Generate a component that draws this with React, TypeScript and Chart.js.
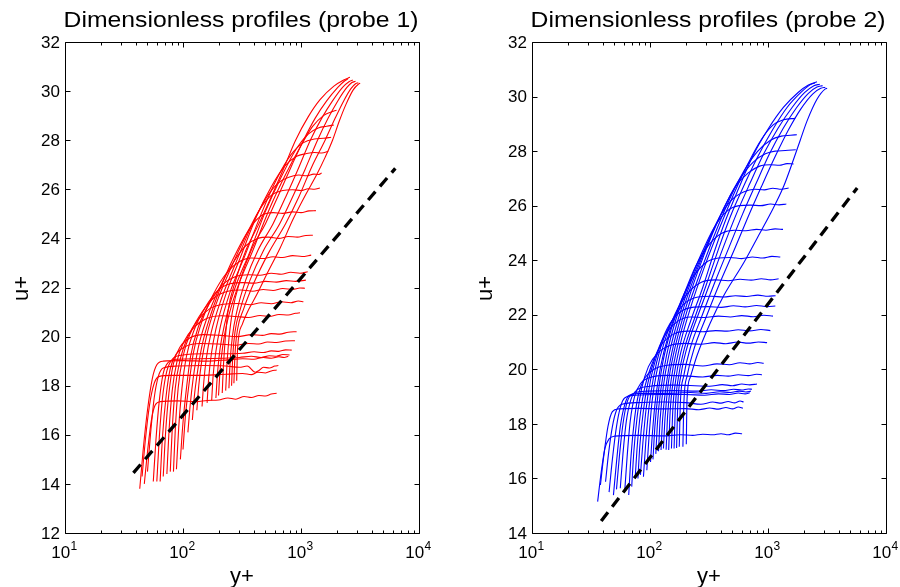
import React, { useEffect, useRef } from 'react';
import { Chart, registerables } from 'chart.js';

Chart.register(...registerables);

type Pt = [number, number];

const FONT = '"Liberation Sans", Arial, Helvetica, sans-serif';

// ---------- axes ----------
const xTickValues = [10, 100, 1000, 10000];
const xTickBase = '10';
const xTickExponents = ['1', '2', '3', '4'];
const xMinorValues = [20, 30, 40, 50, 60, 70, 80, 90, 200, 300, 400, 500, 600, 700, 800, 900, 2000, 3000, 4000, 5000, 6000, 7000, 8000, 9000];
const yTicksProbe1 = [12, 14, 16, 18, 20, 22, 24, 26, 28, 30, 32];
const yTicksProbe2 = [14, 16, 18, 20, 22, 24, 26, 28, 30, 32];

// ---------- log-law reference line ----------
const logLawXProbe1 = [38, 6300];
const logLawUProbe1 = [14.45, 26.85];
const logLawXProbe2 = [38.6, 5700];
const logLawUProbe2 = [14.44, 26.65];

// ---------- probe 1 profiles (y+, u+) ----------
const p1c01: Pt[] = [[47,14.0],[50,15.3],[54,16.6],[58,17.2],[64,17.35],[90,17.38],[130,17.35],[160,17.4],[200,17.42],[240,17.5],[280,17.45],[330,17.56],[380,17.52],[440,17.6],[500,17.58],[560,17.66],[622,17.69]];
const p1c02: Pt[] = [[45,14.3],[48,15.8],[52,17.2],[57,18.1],[63,18.38],[80,18.42],[130,18.42],[200,18.45],[260,18.48],[320,18.5],[380,18.45],[430,18.55],[500,18.52],[560,18.6],[622,18.64]];
const p1c03: Pt[] = [[50,14.5],[53,16.0],[57,17.5],[62,18.4],[68,18.72],[90,18.8],[150,18.82],[230,18.8],[300,18.75],[350,18.8],[410,18.55],[440,18.62],[480,18.75],[540,18.72],[600,18.8],[643,18.82]];
const p1c04: Pt[] = [[43,13.8],[46,15.4],[50,17.0],[55,18.3],[60,18.85],[68,19.0],[100,19.02],[160,19.0],[240,19.05],[320,19.1],[400,19.08],[480,19.15],[560,19.12],[650,19.18],[720,19.15],[781,19.2]];
const p1c05: Pt[] = [[56,14.1],[59,15.8],[63,17.4],[68,18.5],[75,18.95],[90,19.08],[140,19.1],[220,19.12],[300,19.15],[380,19.2],[460,19.15],[540,19.22],[620,19.2],[700,19.27],[800,19.25]];
const p1c06: Pt[] = [[60,14.1],[63,15.9],[67,17.5],[73,18.6],[82,19.1],[100,19.25],[150,19.3],[230,19.3],[320,19.32],[400,19.38],[480,19.35],[560,19.42],[650,19.4],[740,19.46],[834,19.45]];
const p1c07: Pt[] = [[64,14.1],[67,15.9],[72,17.6],[78,18.7],[88,19.3],[105,19.6],[140,19.72],[200,19.7],[280,19.65],[360,19.72],[440,19.7],[520,19.78],[620,19.76],[740,19.82],[889,19.83]];
const p1c08: Pt[] = [[68,14.3],[71,16.0],[76,17.7],[83,18.9],[95,19.6],[115,19.95],[150,20.08],[210,20.05],[290,20.0],[380,20.08],[470,20.05],[560,20.12],[660,20.1],[780,20.18],[918,20.2]];
const p1c09: Pt[] = [[73,14.4],[76,16.1],[81,17.8],[89,19.0],[102,19.8],[125,20.4],[160,20.75],[210,20.85],[280,20.82],[360,20.78],[450,20.86],[540,20.82],[650,20.9],[780,20.88],[900,20.95],[980,20.97]];
const p1c10: Pt[] = [[78,14.5],[81,16.2],[86,17.9],[95,19.1],[110,20.0],[135,20.7],[170,21.15],[220,21.32],[290,21.35],[370,21.3],[460,21.38],[560,21.34],[680,21.42],[820,21.38],[950,21.45],[1048,21.42]];
const p1c11: Pt[] = [[83,14.5],[86,16.2],[91,17.9],[100,19.2],[117,20.2],[145,21.0],[185,21.6],[240,21.85],[310,21.9],[390,21.85],[480,21.92],[580,21.88],[700,21.96],[850,21.92],[980,21.98],[1080,21.97]];
const p1c12: Pt[] = [[88,14.6],[92,16.3],[98,17.9],[107,19.2],[125,20.3],[155,21.2],[195,21.85],[250,22.15],[320,22.2],[400,22.18],[500,22.25],[620,22.22],[750,22.28],[900,22.25],[1100,22.3]];
const p1c13: Pt[] = [[95,15.0],[100,16.5],[107,17.9],[116,19.2],[135,20.4],[170,21.4],[215,22.1],[280,22.45],[360,22.52],[450,22.5],[560,22.58],[680,22.54],[820,22.62],[980,22.58],[1140,22.64]];
const p1c14: Pt[] = [[100,15.4],[105,16.8],[112,18.0],[122,19.3],[142,20.5],[180,21.7],[235,22.6],[300,23.05],[380,23.2],[470,23.18],[580,23.25],[700,23.22],[850,23.3],[1020,23.26],[1220,23.32]];
const p1c15: Pt[] = [[110,16.1],[115,17.2],[122,18.3],[134,19.5],[158,20.7],[200,21.9],[265,23.0],[340,23.7],[430,24.0],[530,24.05],[650,24.0],[780,24.08],[930,24.05],[1100,24.12],[1260,24.13]];
const p1c16: Pt[] = [[120,16.6],[125,17.6],[133,18.6],[146,19.7],[172,20.9],[225,22.4],[295,23.6],[380,24.5],[470,24.95],[580,25.05],[700,25.02],[850,25.08],[1000,25.05],[1170,25.12],[1337,25.13]];
const p1c17: Pt[] = [[131,17.0],[136,18.0],[144,19.0],[158,20.0],[190,21.3],[255,22.8],[340,24.1],[450,25.2],[560,25.75],[700,25.95],[850,25.98],[1000,25.95],[1150,26.02],[1300,26.0],[1445,26.05]];
const p1c18: Pt[] = [[145,17.15],[150,18.15],[158,19.15],[173,20.15],[210,21.5],[280,23.0],[380,24.5],[500,25.6],[640,26.25],[800,26.5],[960,26.58],[1120,26.55],[1280,26.62],[1400,26.6],[1496,26.66]];
const p1c19: Pt[] = [[160,17.3],[165,18.3],[174,19.3],[190,20.3],[230,21.7],[305,23.2],[420,24.9],[560,26.1],[730,26.95],[920,27.35],[1100,27.45],[1300,27.5],[1500,27.48],[1702,27.55]];
const p1c20: Pt[] = [[175,17.4],[180,18.4],[190,19.4],[207,20.4],[250,21.8],[335,23.3],[460,25.0],[620,26.4],[820,27.4],[1050,27.9],[1300,28.05],[1550,28.08],[1800,28.12]];
const p1c21: Pt[] = [[190,17.5],[196,18.5],[206,19.5],[225,20.5],[272,21.9],[365,23.4],[500,25.1],[680,26.5],[900,27.6],[1150,28.25],[1400,28.5],[1650,28.57],[1900,28.62]];
const p1c22: Pt[] = [[200,17.6],[206,18.6],[217,19.6],[237,20.6],[290,22.0],[390,23.5],[540,25.2],[740,26.6],[980,27.7],[1250,28.55],[1550,29.0],[1800,29.15],[2000,29.22]];
const p1t1: Pt[] = [[215,17.7],[220,18.8],[228,19.9],[240,21.0],[280,22.3],[340,23.5],[430,24.5],[560,25.7],[720,26.9],[900,28.0],[1150,28.95],[1450,29.65],[1900,30.2],[2300,30.45],[2600,30.56]];
const p1t2: Pt[] = [[230,17.8],[236,18.9],[245,19.9],[262,21.0],[310,22.4],[385,23.6],[500,24.6],[650,25.8],[840,27.0],[1050,28.0],[1320,28.9],[1650,29.6],[2050,30.15],[2350,30.42],[2500,30.5]];
const p1t3: Pt[] = [[245,17.9],[251,19.0],[262,20.0],[285,21.0],[340,22.3],[430,23.5],[580,24.6],[760,25.8],[960,26.9],[1200,28.0],[1500,28.9],[1850,29.6],[2250,30.15],[2550,30.38],[2750,30.45]];
const p1t4: Pt[] = [[258,18.0],[264,19.2],[276,20.2],[305,21.1],[370,22.3],[480,23.5],[660,24.6],[850,25.7],[1080,26.8],[1380,28.0],[1700,28.9],[2050,29.6],[2450,30.15],[2700,30.35],[2900,30.4]];
const p1t5: Pt[] = [[270,18.1],[276,19.3],[290,20.3],[325,21.1],[400,22.2],[530,23.4],[740,24.6],[960,25.7],[1230,26.9],[1600,28.0],[1950,28.9],[2300,29.6],[2650,30.1],[2900,30.3],[3060,30.34]];
const p1t6: Pt[] = [[285,18.2],[290,19.5],[318,20.5],[360,21.1],[421,21.7],[520,22.6],[664,23.6],[860,24.8],[1100,25.8],[1360,26.6],[1600,27.3],[1850,28.0],[2100,28.75],[2400,29.45],[2770,30.05],[3060,30.28],[3170,30.32]];

const probe1Curves: Pt[][] = [p1c01, p1c02, p1c03, p1c04, p1c05, p1c06, p1c07, p1c08, p1c09, p1c10, p1c11, p1c12, p1c13, p1c14, p1c15, p1c16, p1c17, p1c18, p1c19, p1c20, p1c21, p1c22, p1t1, p1t2, p1t3, p1t4, p1t5, p1t6];

// ---------- probe 2 profiles (y+, u+) ----------
const p2d01: Pt[] = [[36,15.15],[38.5,16.2],[41.5,17.1],[45,17.45],[50,17.55],[80,17.58],[130,17.56],[181,17.6],[230,17.58],[280,17.62],[340,17.6],[400,17.64],[460,17.6],[530,17.66],[603,17.64]];
const p2d02: Pt[] = [[38,15.76],[40.5,16.8],[44,17.9],[48,18.45],[54,18.55],[80,18.57],[130,18.55],[200,18.56],[260,18.52],[320,18.58],[380,18.54],[440,18.6],[500,18.55],[560,18.62],[613,18.57]];
const p2d03: Pt[] = [[42,15.88],[44.5,16.9],[48,17.9],[52,18.5],[58,18.72],[80,18.78],[130,18.8],[200,18.78],[270,18.72],[340,18.8],[400,18.76],[460,18.82],[520,18.77],[580,18.84],[621,18.8]];
const p2d04: Pt[] = [[45,15.5],[48,16.7],[52,17.9],[56,18.6],[61,18.95],[75,19.05],[120,19.08],[200,19.08],[290,19.05],[380,19.1],[470,19.08],[560,19.13],[640,19.1],[700,19.14]];
const p2d05: Pt[] = [[49,15.39],[52,16.6],[56,17.9],[61,18.7],[67,19.05],[85,19.12],[140,19.12],[220,19.15],[300,19.12],[390,19.18],[480,19.15],[570,19.2],[650,19.17],[715,19.2]];
const p2d06: Pt[] = [[52,15.6],[55,16.8],[59,18.0],[64,18.8],[71,19.1],[95,19.2],[160,19.22],[250,19.2],[330,19.25],[420,19.22],[510,19.27],[600,19.24],[680,19.28],[732,19.27]];
const p2d07: Pt[] = [[56,15.64],[59,16.9],[63,18.1],[69,18.9],[78,19.25],[100,19.38],[160,19.42],[240,19.4],[320,19.38],[410,19.44],[500,19.4],[600,19.46],[700,19.43],[807,19.46]];
const p2d08: Pt[] = [[61,15.5],[64,16.8],[68,18.1],[74,19.0],[84,19.5],[100,19.7],[140,19.78],[200,19.76],[280,19.72],[370,19.78],[460,19.75],[560,19.8],[680,19.77],[800,19.82],[889,19.8]];
const p2d09: Pt[] = [[66,15.39],[69,16.8],[74,18.2],[80,19.1],[91,19.7],[108,20.0],[140,20.15],[200,20.18],[280,20.12],[370,20.2],[470,20.17],[580,20.24],[700,20.2],[820,20.25],[918,20.22]];
const p2d10: Pt[] = [[70,15.7],[73,17.0],[78,18.3],[85,19.3],[97,20.1],[117,20.6],[150,20.88],[200,20.95],[270,20.92],[350,20.98],[440,20.94],[550,21.0],[680,20.96],[830,21.0],[982,20.98]];
const p2d11: Pt[] = [[75,16.06],[78,17.2],[83,18.4],[91,19.4],[104,20.2],[125,20.9],[160,21.3],[210,21.4],[280,21.38],[360,21.42],[450,21.4],[560,21.45],[700,21.41],[870,21.46],[1047,21.42]];
const p2d12: Pt[] = [[79,16.0],[82,17.2],[88,18.5],[96,19.5],[110,20.4],[132,21.2],[170,21.75],[220,21.92],[290,21.9],[380,21.95],[480,21.92],[600,21.97],[750,21.93],[920,21.98],[1102,21.95]];
const p2d13: Pt[] = [[83,16.13],[87,17.3],[93,18.6],[101,19.6],[116,20.6],[140,21.5],[180,22.1],[235,22.28],[310,22.3],[400,22.27],[510,22.33],[640,22.29],[800,22.34],[980,22.3],[1154,22.32]];
const p2d14: Pt[] = [[88,16.06],[92,17.3],[98,18.6],[107,19.7],[123,20.8],[150,21.7],[195,22.4],[255,22.65],[330,22.68],[420,22.65],[530,22.7],[660,22.67],[820,22.72],[1000,22.68],[1160,22.7]];
const p2d15: Pt[] = [[94,16.3],[98,17.5],[104,18.8],[114,19.9],[132,21.0],[162,22.0],[210,22.8],[275,23.2],[360,23.28],[460,23.25],[580,23.3],[720,23.27],[880,23.32],[1050,23.28],[1230,23.32]];
const p2d16: Pt[] = [[101,16.6],[105,17.7],[112,19.0],[123,20.1],[142,21.2],[175,22.3],[225,23.3],[295,23.9],[380,24.08],[480,24.1],[600,24.06],[740,24.12],[900,24.08],[1080,24.14],[1271,24.12]];
const p2d17: Pt[] = [[106,16.7],[110,17.9],[117,19.1],[129,20.3],[152,21.5],[192,22.7],[245,23.8],[320,24.6],[410,25.0],[520,25.1],[650,25.08],[800,25.13],[960,25.1],[1150,25.15],[1340,25.13]];
const p2d18: Pt[] = [[112,16.9],[116,18.1],[124,19.3],[138,20.5],[165,21.8],[208,23.0],[270,24.2],[350,25.2],[450,25.8],[570,26.0],[710,26.02],[870,26.0],[1050,26.06],[1240,26.03],[1430,26.06]];
const p2d19: Pt[] = [[118,17.0],[122,18.2],[130,19.4],[146,20.6],[175,21.9],[222,23.2],[290,24.4],[380,25.5],[490,26.2],[620,26.5],[770,26.6],[930,26.58],[1100,26.64],[1300,26.6],[1496,26.65]];
const p2d20: Pt[] = [[124,17.04],[128,18.2],[137,19.4],[153,20.6],[185,22.0],[238,23.4],[315,24.7],[410,25.8],[530,26.7],[680,27.2],[850,27.45],[1050,27.5],[1250,27.48],[1450,27.54],[1648,27.53]];
const p2d21: Pt[] = [[130,17.1],[134,18.2],[143,19.5],[161,20.7],[196,22.1],[255,23.6],[340,25.0],[445,26.1],[580,27.0],[750,27.6],[950,27.9],[1150,28.0],[1400,28.02],[1720,28.05]];
const p2d22: Pt[] = [[137,17.05],[141,18.3],[151,19.6],[170,20.8],[208,22.2],[275,23.7],[365,25.1],[480,26.3],[630,27.3],[820,28.0],[1050,28.4],[1300,28.55],[1550,28.58],[1757,28.6]];
const p2d23: Pt[] = [[144,17.04],[148,18.4],[159,19.7],[180,20.9],[222,22.3],[292,23.8],[390,25.2],[510,26.4],[670,27.5],[870,28.4],[1100,28.95],[1350,29.15],[1700,29.2]];
const p2s1: Pt[] = [[152,17.1],[156,18.5],[165,19.6],[182,20.6],[222,21.8],[280,23.0],[350,24.3],[440,25.5],[560,26.6],[740,27.8],[1000,28.8],[1350,29.6],[1800,30.15],[2200,30.42],[2600,30.54]];
const p2s2: Pt[] = [[160,17.1],[164,18.6],[174,19.7],[194,20.7],[240,21.9],[300,23.1],[380,24.4],[480,25.6],[620,26.7],[820,27.8],[1100,28.8],[1450,29.6],[1900,30.15],[2250,30.42],[2500,30.5]];
const p2s3: Pt[] = [[168,17.12],[172,18.7],[183,19.8],[206,20.8],[256,22.0],[325,23.2],[420,24.5],[540,25.7],[700,26.8],[920,27.9],[1220,28.85],[1600,29.6],[2050,30.15],[2450,30.4],[2750,30.45]];
const p2s4: Pt[] = [[177,17.16],[181,18.8],[193,19.75],[220,20.8],[278,22.0],[355,23.2],[470,24.5],[610,25.7],[790,26.8],[1030,27.9],[1350,28.85],[1750,29.6],[2200,30.12],[2600,30.35],[2900,30.4]];
const p2s5: Pt[] = [[190,17.16],[194,18.85],[206,19.75],[238,20.8],[298,21.9],[385,23.1],[520,24.4],[680,25.6],[880,26.7],[1150,27.8],[1500,28.8],[1900,29.55],[2400,30.1],[2800,30.3],[3060,30.34]];
const p2s6: Pt[] = [[203,17.25],[206,18.9],[219,19.7],[250,20.5],[324,21.7],[421,22.7],[621,23.9],[807,24.8],[1047,25.7],[1355,26.7],[1648,27.7],[1876,28.4],[2140,29.1],[2600,29.9],[3060,30.28],[3170,30.3]];

const probe2Curves: Pt[][] = [p2d01, p2d02, p2d03, p2d04, p2d05, p2d06, p2d07, p2d08, p2d09, p2d10, p2d11, p2d12, p2d13, p2d14, p2d15, p2d16, p2d17, p2d18, p2d19, p2d20, p2d21, p2d22, p2d23, p2s1, p2s2, p2s3, p2s4, p2s5, p2s6];

// ---------- MATLAB-like axes box, ticks and labels ----------
const matlabAxes = {
  id: 'matlabAxes',
  afterDatasetsDraw(chart: any, _args: any, opts: any) {
    const { ctx, chartArea: a } = chart;
    const xs = chart.scales.x;
    const ys = chart.scales.y;
    const L = Math.round(a.left) + 0.5;
    const R = Math.round(a.right) + 0.5;
    const T = Math.round(a.top) + 0.5;
    const B = Math.round(a.bottom) + 0.5;
    ctx.save();
    ctx.strokeStyle = '#000';
    ctx.lineWidth = 1;
    ctx.beginPath();
    ctx.rect(L, T, R - L, B - T);
    for (const v of opts.yTicks) {
      const p = Math.round(ys.getPixelForValue(v)) + 0.5;
      ctx.moveTo(L, p); ctx.lineTo(L + 5, p);
      ctx.moveTo(R, p); ctx.lineTo(R - 5, p);
    }
    for (const v of xTickValues) {
      const p = Math.round(xs.getPixelForValue(v)) + 0.5;
      ctx.moveTo(p, B); ctx.lineTo(p, B - 5);
      ctx.moveTo(p, T); ctx.lineTo(p, T + 5);
    }
    for (const v of xMinorValues) {
      const p = Math.round(xs.getPixelForValue(v)) + 0.5;
      ctx.moveTo(p, B); ctx.lineTo(p, B - 3);
      ctx.moveTo(p, T); ctx.lineTo(p, T + 3);
    }
    ctx.stroke();

    ctx.fillStyle = '#000';
    // y tick labels
    ctx.font = `17px ${FONT}`;
    ctx.textAlign = 'right';
    ctx.textBaseline = 'middle';
    for (const v of opts.yTicks) {
      ctx.fillText(String(v), a.left - 5, ys.getPixelForValue(v) + 1);
    }
    // x tick labels with superscript exponents
    ctx.textAlign = 'left';
    ctx.textBaseline = 'alphabetic';
    xTickValues.forEach((v, i) => {
      const p = xs.getPixelForValue(v);
      ctx.font = `17px ${FONT}`;
      const wb = ctx.measureText(xTickBase).width;
      ctx.font = `12px ${FONT}`;
      const we = ctx.measureText(xTickExponents[i]).width;
      const start = p - (wb + we) / 2 - 1;
      ctx.font = `17px ${FONT}`;
      ctx.fillText(xTickBase, start, 558);
      ctx.font = `12px ${FONT}`;
      ctx.fillText(xTickExponents[i], start + wb + 0.5, 550);
    });

    // title (stretched to match the reference width)
    const cx = (a.left + a.right) / 2;
    ctx.font = `22px ${FONT}`;
    ctx.textAlign = 'center';
    const tw = ctx.measureText(opts.title).width;
    ctx.save();
    ctx.translate(cx - 1, 27);
    ctx.scale(opts.titleWidth / tw, 1);
    ctx.fillText(opts.title, 0, 0);
    ctx.restore();

    // axis titles
    ctx.font = `22px ${FONT}`;
    ctx.textAlign = 'center';
    ctx.fillText(opts.xLabel, cx, 583);
    ctx.save();
    ctx.translate(opts.yLabelX, (a.top + a.bottom) / 2 + 1);
    ctx.rotate(-Math.PI / 2);
    ctx.fillText(opts.yLabel, 0, 0);
    ctx.restore();
    ctx.restore();
  },
};

type PanelProps = {
  curves: Pt[][];
  color: string;
  yMin: number;
  yMax: number;
  yTicks: number[];
  lawX: number[];
  lawU: number[];
  title: string;
  left: number;
  padLeft: number;
  padRight: number;
  yLabelX: number;
};

function ProfilePanel(props: PanelProps) {
  const ref = useRef<HTMLCanvasElement>(null);
  useEffect(() => {
    const canvas = ref.current;
    if (!canvas) return;
    const datasets: any[] = props.curves.map((c) => ({
      data: c.map(([x, y]) => ({ x, y })),
      borderColor: props.color,
      borderWidth: 1.1,
      pointRadius: 0,
      cubicInterpolationMode: 'monotone',
      fill: false,
      order: 1,
    }));
    datasets.push({
      data: props.lawX.map((x, i) => ({ x, y: props.lawU[i] })),
      borderColor: '#000',
      borderWidth: 3.3,
      borderDash: [11, 7],
      borderCapStyle: 'butt',
      pointRadius: 0,
      fill: false,
      order: 0,
    });
    const chart = new Chart(canvas, {
      type: 'line',
      data: { datasets },
      options: {
        responsive: false,
        animation: false,
        devicePixelRatio: 1,
        events: [],
        layout: { padding: { left: props.padLeft, right: props.padRight, top: 42, bottom: 54 } },
        plugins: {
          legend: { display: false },
          tooltip: { enabled: false },
          title: { display: false },
          matlabAxes: {
            yTicks: props.yTicks,
            title: props.title,
            titleWidth: 355,
            xLabel: 'y+',
            yLabel: 'u+',
            yLabelX: props.yLabelX,
          },
        } as any,
        scales: {
          x: { type: 'logarithmic', min: 10, max: 10000, display: false },
          y: { type: 'linear', min: props.yMin, max: props.yMax, display: false },
        },
      },
      plugins: [matlabAxes as any],
    } as any);
    return () => chart.destroy();
  }, []);
  return (
    <canvas
      ref={ref}
      width={450}
      height={587}
      style={{ position: 'absolute', left: props.left, top: 0, width: 450, height: 587 }}
    />
  );
}

export default function App() {
  return (
    <div style={{ position: 'fixed', left: 0, top: 0, width: 900, height: 587, background: '#fff', overflow: 'hidden' }}>
      <ProfilePanel
        curves={probe1Curves}
        color="#ff0000"
        yMin={12}
        yMax={32}
        yTicks={yTicksProbe1}
        lawX={logLawXProbe1}
        lawU={logLawUProbe1}
        title="Dimensionless profiles (probe 1)"
        left={0}
        padLeft={65}
        padRight={31}
        yLabelX={28}
      />
      <ProfilePanel
        curves={probe2Curves}
        color="#0000ff"
        yMin={14}
        yMax={32}
        yTicks={yTicksProbe2}
        lawX={logLawXProbe2}
        lawU={logLawUProbe2}
        title="Dimensionless profiles (probe 2)"
        left={450}
        padLeft={82}
        padRight={14}
        yLabelX={42}
      />
    </div>
  );
}
